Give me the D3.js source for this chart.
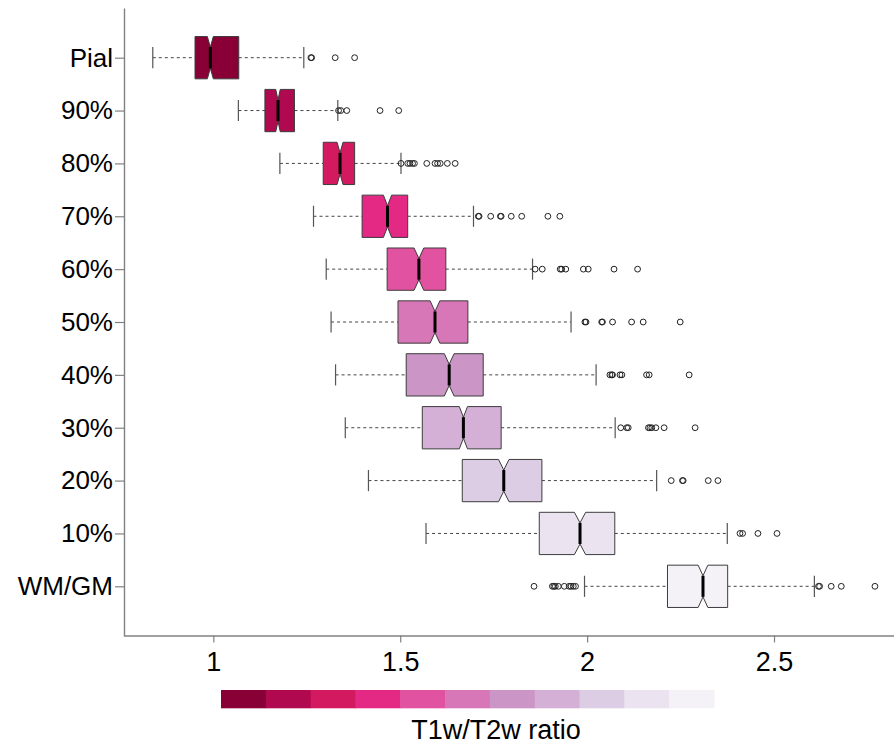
<!DOCTYPE html>
<html>
<head>
<meta charset="utf-8">
<script src="https://cdn.jsdelivr.net/npm/d3@7"></script>
<style>
  body { margin: 0; background: #fff; }
  svg { display: block; }
  text { font-family: "Liberation Sans", Arial, Helvetica, sans-serif; fill: #000; }
</style>
</head>
<body>
<svg id="chart" width="894" height="746"></svg>
<script>
// Cortical depth levels, from the pial surface down to the WM/GM boundary
const categories = ["Pial", "90%", "80%", "70%", "60%", "50%", "40%", "30%", "20%", "10%", "WM/GM"];

// Five-number summaries of the T1w/T2w ratio at each depth
const whiskerLow  = [0.838, 1.067, 1.178, 1.268, 1.302, 1.315, 1.327, 1.353, 1.415, 1.569, 1.993];
const quart1      = [0.951, 1.138, 1.294, 1.398, 1.465, 1.494, 1.516, 1.559, 1.666, 1.872, 2.215];
const medians     = [0.992, 1.173, 1.339, 1.466, 1.550, 1.593, 1.631, 1.669, 1.777, 1.981, 2.310];
const quart3      = [1.068, 1.217, 1.378, 1.520, 1.622, 1.681, 1.722, 1.770, 1.879, 2.074, 2.376];
const whiskerHigh = [1.242, 1.333, 1.502, 1.696, 1.854, 1.957, 2.024, 2.075, 2.186, 2.375, 2.608];
// Half-width of the median confidence notch
const notchHalf   = [0.008, 0.006, 0.008, 0.011, 0.013, 0.013, 0.013, 0.011, 0.014, 0.015, 0.013];

// Points beyond the whiskers
const outliers = [
  [1.261, 1.263, 1.326, 1.378],
  [1.335, 1.341, 1.357, 1.446, 1.496],
  [1.502, 1.520, 1.526, 1.533, 1.538, 1.571, 1.593, 1.600, 1.607, 1.626, 1.647],
  [1.709, 1.711, 1.742, 1.768, 1.770, 1.797, 1.825, 1.895, 1.927],
  [1.861, 1.880, 1.928, 1.932, 1.943, 1.990, 2.003, 2.072, 2.135],
  [1.994, 1.997, 2.039, 2.041, 2.068, 2.119, 2.150, 2.249],
  [2.061, 2.066, 2.068, 2.088, 2.093, 2.159, 2.166, 2.273],
  [2.090, 2.106, 2.110, 2.164, 2.168, 2.173, 2.184, 2.206, 2.289],
  [2.225, 2.255, 2.257, 2.324, 2.350],
  [2.409, 2.416, 2.457, 2.508],
  [1.858, 1.907, 1.911, 1.915, 1.923, 1.939, 1.952, 1.957, 1.963, 1.969,
   2.619, 2.622, 2.653, 2.680, 2.770]
];

const xTicks = [1, 1.5, 2, 2.5];
const xTickLabels = ["1", "1.5", "2", "2.5"];

// Fill colour per depth (dark purple-red at the pial surface to near white at WM/GM)
const palette = ["#880036", "#b0094f", "#d3195f", "#e32984", "#e153a0", "#d877b7",
                 "#cb96c6", "#d4b0d7", "#ddcde4", "#ebe4f0", "#f4f1f7"];

const axisTitle = "T1w/T2w ratio";

// ---------------------------------------------------------------------------
const svg = d3.select("#chart");
const n = categories.length;

const x = d3.scaleLinear().domain([0.761, 2.821]).range([124, 894]);
// Box positions run 1..n from bottom to top, with 4% padding beyond 0.5..n+0.5
const y = d3.scaleLinear().domain([0.06, n + 0.94]).range([636, 8]);
const posOf = i => n - i;
const halfH = 0.4 * (y(1) - y(2));

const axisColor = "#808080";

// Axes
const xAxis = svg.append("g")
  .attr("transform", "translate(0,635.5)")
  .call(d3.axisBottom(x).tickValues(xTicks)
    .tickFormat((d, i) => xTickLabels[i]).tickSize(7).tickSizeOuter(0).tickPadding(9));
xAxis.select(".domain").attr("stroke", axisColor).attr("stroke-width", 1.4);
xAxis.selectAll(".tick line").attr("stroke", axisColor).attr("stroke-width", 1.2);
xAxis.selectAll(".tick text").attr("font-size", 27).attr("fill", "#000")
  .attr("font-family", "'Liberation Sans', Arial, sans-serif");

const yAxis = svg.append("g")
  .attr("transform", "translate(124,0)")
  .call(d3.axisLeft(y).tickValues(categories.map((c, i) => posOf(i)))
    .tickFormat(d => categories[n - d]).tickSize(9).tickSizeOuter(0).tickPadding(2));
yAxis.select(".domain").attr("stroke", axisColor).attr("stroke-width", 1.4);
yAxis.selectAll(".tick line").attr("stroke", axisColor).attr("stroke-width", 1.2);
yAxis.selectAll(".tick text").attr("font-size", 26).attr("fill", "#000")
  .attr("font-family", "'Liberation Sans', Arial, sans-serif");

// Notched box plots
const rows = categories.map((c, i) => ({
  name: c, pos: posOf(i), lw: whiskerLow[i], q1: quart1[i], med: medians[i],
  q3: quart3[i], uw: whiskerHigh[i], nh: notchHalf[i], out: outliers[i], color: palette[i]
}));

const plot = svg.append("g");
const g = plot.selectAll("g.row").data(rows).join("g").attr("class", "row");

// Dashed whiskers
g.append("line")
  .attr("x1", d => x(d.lw)).attr("x2", d => x(d.q1))
  .attr("y1", d => y(d.pos)).attr("y2", d => y(d.pos))
  .attr("stroke", "#444").attr("stroke-width", 1).attr("stroke-dasharray", "3,3");
g.append("line")
  .attr("x1", d => x(d.q3)).attr("x2", d => x(d.uw))
  .attr("y1", d => y(d.pos)).attr("y2", d => y(d.pos))
  .attr("stroke", "#444").attr("stroke-width", 1).attr("stroke-dasharray", "3,3");

// Whisker caps
["lw", "uw"].forEach(k => {
  g.append("line")
    .attr("x1", d => x(d[k])).attr("x2", d => x(d[k]))
    .attr("y1", d => y(d.pos) - halfH / 2).attr("y2", d => y(d.pos) + halfH / 2)
    .attr("stroke", "#555").attr("stroke-width", 1.2);
});

// Box with notch around the median
g.append("path")
  .attr("d", d => {
    const yc = y(d.pos);
    const pts = [
      [x(d.q1), yc - halfH], [x(d.med - d.nh), yc - halfH], [x(d.med), yc - halfH / 2],
      [x(d.med + d.nh), yc - halfH], [x(d.q3), yc - halfH], [x(d.q3), yc + halfH],
      [x(d.med + d.nh), yc + halfH], [x(d.med), yc + halfH / 2], [x(d.med - d.nh), yc + halfH],
      [x(d.q1), yc + halfH]
    ];
    return d3.line()(pts) + "Z";
  })
  .attr("fill", d => d.color).attr("stroke", "#3c3c3c").attr("stroke-width", 1);

// Median line
g.append("line")
  .attr("x1", d => x(d.med)).attr("x2", d => x(d.med))
  .attr("y1", d => y(d.pos) - halfH / 2).attr("y2", d => y(d.pos) + halfH / 2)
  .attr("stroke", "#000").attr("stroke-width", 3);

// Outlier circles
g.selectAll("circle")
  .data(d => d.out.map(v => ({ v, pos: d.pos })))
  .join("circle")
  .attr("cx", d => x(d.v)).attr("cy", d => y(d.pos)).attr("r", 2.9)
  .attr("fill", "none").attr("stroke", "#222").attr("stroke-width", 1);

// Colour key beneath the axis
const keyX = d3.scaleBand().domain(d3.range(palette.length)).range([221, 714]);
svg.append("g").selectAll("rect").data(palette).join("rect")
  .attr("x", (d, i) => keyX(i)).attr("width", keyX.bandwidth() + 0.5)
  .attr("y", 690).attr("height", 18.3)
  .attr("fill", d => d);

svg.append("text")
  .attr("x", 496).attr("y", 739)
  .attr("text-anchor", "middle").attr("font-size", 27)
  .text(axisTitle);
</script>
</body>
</html>
